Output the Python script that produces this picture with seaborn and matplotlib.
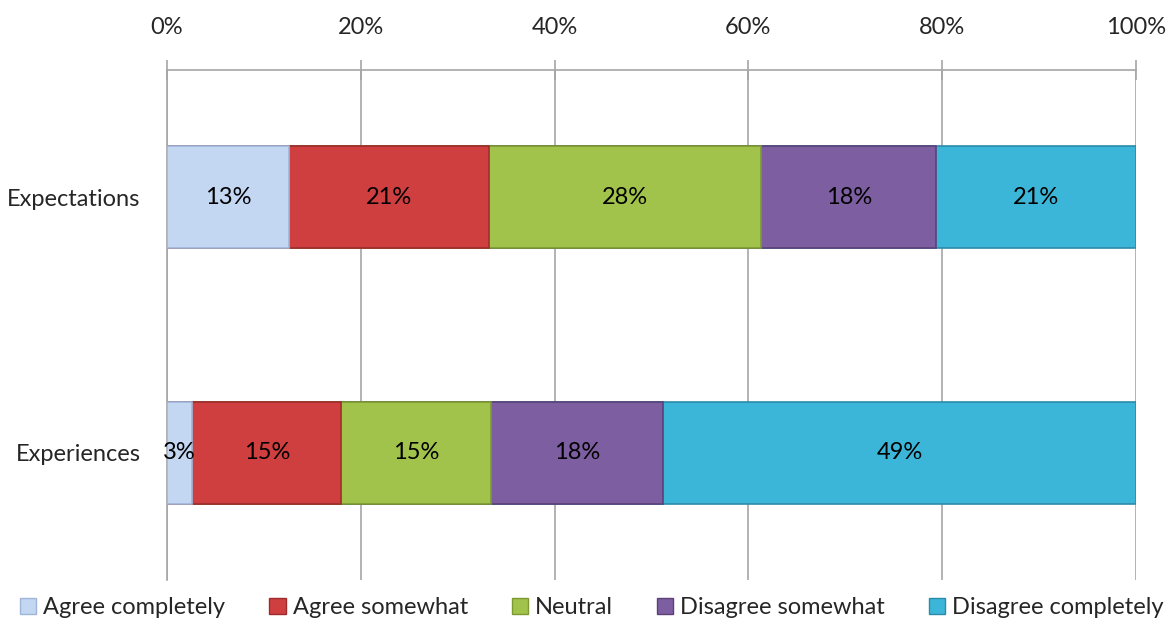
import numpy as np
import pandas as pd
import seaborn as sns
import matplotlib.pyplot as plt
from matplotlib.patches import Patch

# ========= DATA =========
rows = ["Expectations", "Experiences"]
answers = ["Agree completely", "Agree somewhat", "Neutral",
           "Disagree somewhat", "Disagree completely"]
expectations = [12.6, 20.6, 28.1, 18.1, 20.6]
experiences = [2.6, 15.4, 15.4, 17.8, 48.8]
colors = ["#c3d6f2", "#cf3f3f", "#a2c34b", "#7d5ea0", "#3cb6d8"]
edges = ["#9fb6da", "#9e2c2c", "#7d9a32", "#5a4278", "#2a8ba8"]

# ========= BUILD TABLE =========
vals = pd.DataFrame([expectations, experiences], index=rows, columns=answers)
cum = vals.cumsum(axis=1)
long = cum.reset_index().melt(id_vars="index", var_name="answer", value_name="cum")
long = long.rename(columns={"index": "row"})

sns.set_style("white")
plt.rcParams["font.family"] = ["Lato", "DejaVu Sans"]

fig = plt.figure(figsize=(11.72, 6.21), dpi=100)
ax = fig.add_axes([0.1425, 0.066, 0.8268, 0.8213])

# stacked bars: draw cumulative totals from last to first so earlier ones sit on top
for ans, col, ec in reversed(list(zip(answers, colors, edges))):
    sub = long[long["answer"] == ans]
    sns.barplot(data=sub, x="cum", y="row", order=rows, orient="h",
                color=col, width=0.4, ax=ax, edgecolor=ec, linewidth=1.2,
                saturation=1, zorder=3)

# data labels
for i, r in enumerate(rows):
    for ans in answers:
        v = vals.loc[r, ans]
        c = cum.loc[r, ans] - v / 2
        ax.text(c, i, f"{v:.0f}%", ha="center", va="center", fontsize=17,
                color="black", zorder=5)

# ========= AXES STYLE =========
ax.set_xlim(0, 100)
ax.set_ylim(1.5, -0.5)
ax.xaxis.tick_top()
ax.set_xticks(np.arange(0, 101, 20))
ax.set_xticklabels([f"{t}%" for t in range(0, 101, 20)], fontsize=17)
ax.tick_params(axis="x", direction="inout", length=14, width=1.2,
               color="#a6a6a6", pad=16)
ax.set_yticks([-0.5, 0.5, 1.5])
ax.set_yticklabels([])
ax.set_yticks([0, 1], minor=True)
ax.set_yticklabels(rows, minor=True, fontsize=17)
ax.tick_params(axis="y", which="major", direction="out", length=9,
               width=1.2, color="#a6a6a6")
ax.tick_params(axis="y", which="minor", length=0, pad=19)
ax.set_xlabel("")
ax.set_ylabel("")
ax.grid(axis="x", color="#a6a6a6", linewidth=1.2, zorder=0)
ax.set_axisbelow(True)
for s in ["right", "bottom"]:
    ax.spines[s].set_visible(False)
for s in ["left", "top"]:
    ax.spines[s].set_color("#a6a6a6")
    ax.spines[s].set_linewidth(1.2)

handles = [Patch(facecolor=c, edgecolor=e, label=a)
           for a, c, e in zip(answers, colors, edges)]
fig.legend(handles=handles, loc="lower center", ncol=5, frameon=False,
           bbox_to_anchor=(0.505, -0.03), fontsize=17, handlelength=0.7,
           handleheight=0.7, handletextpad=0.3, columnspacing=1.85)

plt.savefig("out.png", dpi=100)
